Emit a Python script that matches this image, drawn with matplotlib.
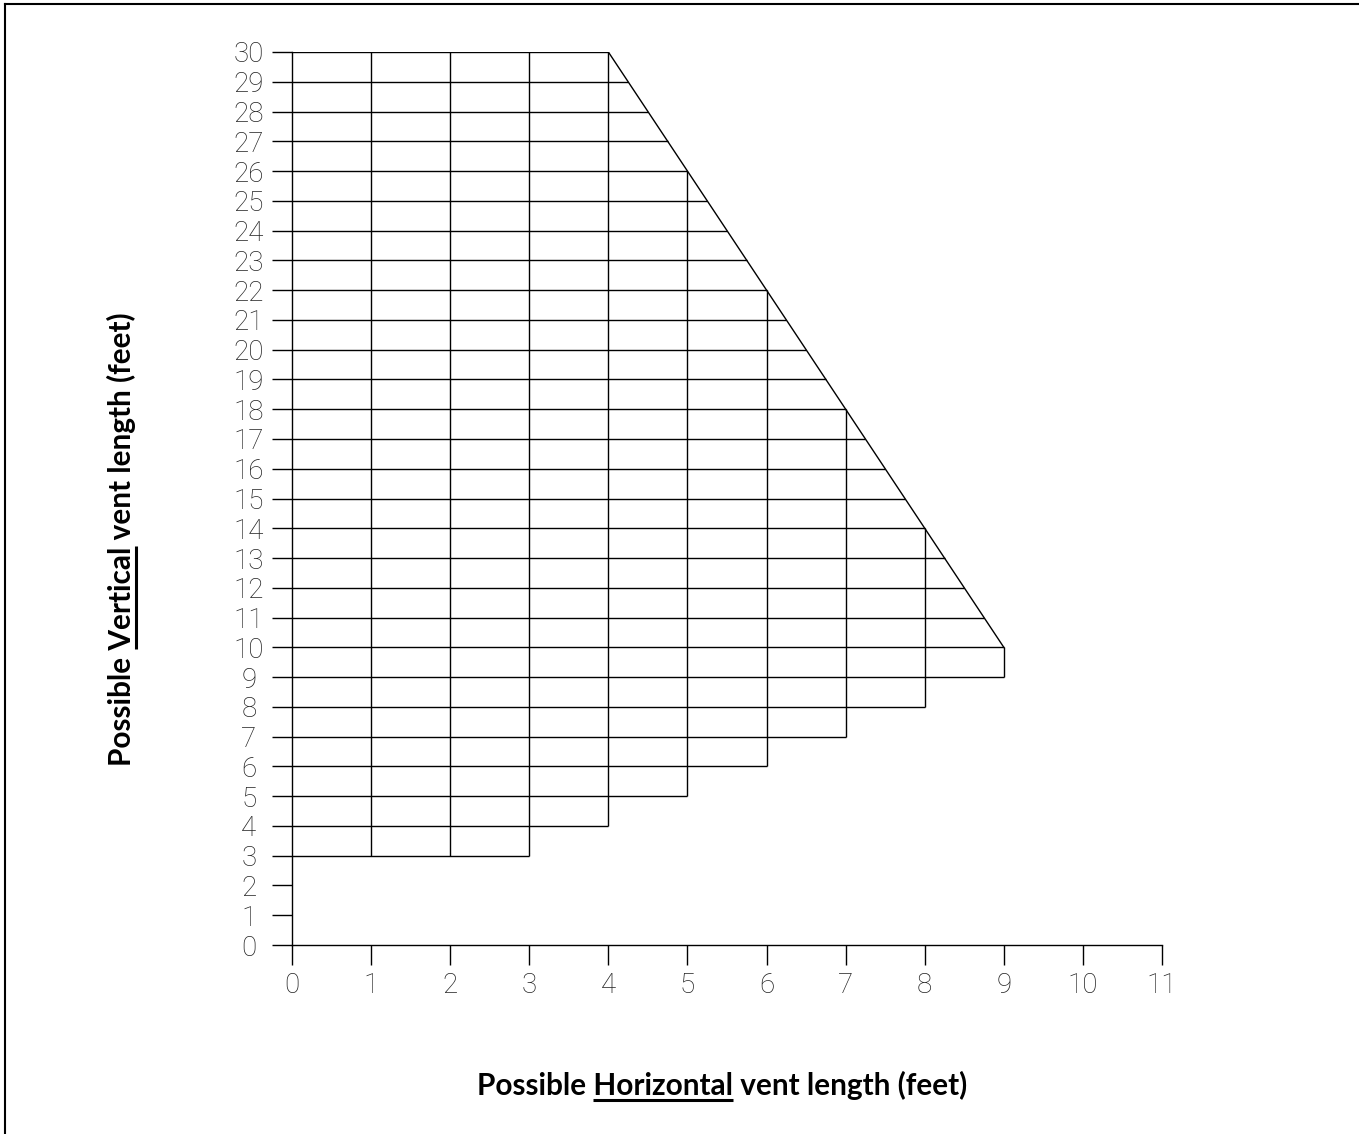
import numpy as np
import matplotlib.pyplot as plt
from matplotlib.lines import Line2D

# vertical vent heights (ft) that get a horizontal grid line, and how far right each runs
h_levels = list(range(3, 31))
h_ends = [3, 4, 5, 6, 7, 8, 9, 9, 8.75, 8.5, 8.25, 8, 7.75, 7.5, 7.25, 7,
          6.75, 6.5, 6.25, 6, 5.75, 5.5, 5.25, 5, 4.75, 4.5, 4.25, 4]

# horizontal lengths (ft) that get a vertical grid line, with their bottom / top
v_levels = [1, 2, 3, 4, 5, 6, 7, 8, 9]
v_bottoms = [3, 3, 3, 4, 5, 6, 7, 8, 9]
v_tops = [30, 30, 30, 30, 26, 22, 18, 14, 10]

# sloped limit of the allowed region
limit_x = [4, 9]
limit_y = [30, 10]

x_ticks = list(range(0, 12))
y_ticks = list(range(0, 31))

xlabel_pre, xlabel_word, xlabel_post = "Possible ", "Horizontal", " vent length (feet)"
ylabel_pre, ylabel_word, ylabel_post = "Possible ", "Vertical", " vent length (feet)"

W, H, DPI = 1359, 1134, 100
PT = 72 / DPI  # points per pixel
fig = plt.figure(figsize=(W / DPI, H / DPI), dpi=DPI)
ax = fig.add_axes([292 / W, 1 - 945 / H, (1162 - 292) / W, (945 - 52) / H])

lw = 1.0
ax.hlines(h_levels, 0, h_ends, color="black", lw=lw)
ax.vlines(v_levels, v_bottoms, v_tops, color="black", lw=lw)
ax.plot(limit_x, limit_y, color="black", lw=lw)

ax.set_xlim(0, 11)
ax.set_ylim(0, 30)
for s in ["top", "right"]:
    ax.spines[s].set_visible(False)
ax.spines["left"].set_bounds(0, 30)
ax.spines["bottom"].set_bounds(0, 11)
for s in ["left", "bottom"]:
    ax.spines[s].set_linewidth(lw)

tick_font = dict(family="Roboto", weight="light", size=20, color="#222222")
ax.set_xticks(x_ticks)
ax.set_yticks(y_ticks)
ax.set_xticklabels([str(v) for v in x_ticks], **tick_font)
ax.set_yticklabels([str(v) for v in y_ticks], ha="center", **tick_font)
ax.tick_params(direction="out", length=20 * PT, width=lw, color="black")
ax.tick_params(axis="x", pad=7 * PT)
ax.tick_params(axis="y", pad=23 * PT)

# frame lines on left and top of the page
fig.add_artist(Line2D([5 / W, 5 / W], [0, 1 - 4 / H], color="black", lw=1.5))
fig.add_artist(Line2D([5 / W, 1], [1 - 4 / H, 1 - 4 / H], color="black", lw=1.5))

label_font = dict(family="Lato", weight="bold", size=21.4)
fig.canvas.draw()
r = fig.canvas.get_renderer()


def text_width(s):
    t = fig.text(0, 0, s, **label_font)
    bb = t.get_window_extent(r)
    t.remove()
    return bb.width


def underlined_label(pre, word, post, cx, cy, vertical):
    full = pre + word + post
    if vertical:
        fig.text(cx / W, 1 - cy / H, full, rotation=90, ha="center", va="baseline",
                 rotation_mode="anchor", **label_font)
    else:
        fig.text(cx / W, 1 - cy / H, full, ha="center", va="baseline", **label_font)
    total = text_width(full)
    start = text_width(pre)
    wlen = text_width(word)
    off = 4.5  # px below baseline
    if vertical:
        # text reads bottom to top; baseline at x = cx
        y0 = cy + total / 2 - start
        y1 = y0 - wlen
        xs = [(cx + off) / W] * 2
        ys = [1 - y0 / H, 1 - y1 / H]
    else:
        x0 = cx - total / 2 + start
        xs = [x0 / W, (x0 + wlen) / W]
        ys = [1 - (cy + off) / H] * 2
    fig.add_artist(Line2D(xs, ys, color="black", lw=2.2, solid_capstyle="butt"))


underlined_label(xlabel_pre, xlabel_word, xlabel_post, 722, 1095, False)
underlined_label(ylabel_pre, ylabel_word, ylabel_post, 131, 539, True)

fig.savefig("out.png", dpi=DPI, facecolor="white")
